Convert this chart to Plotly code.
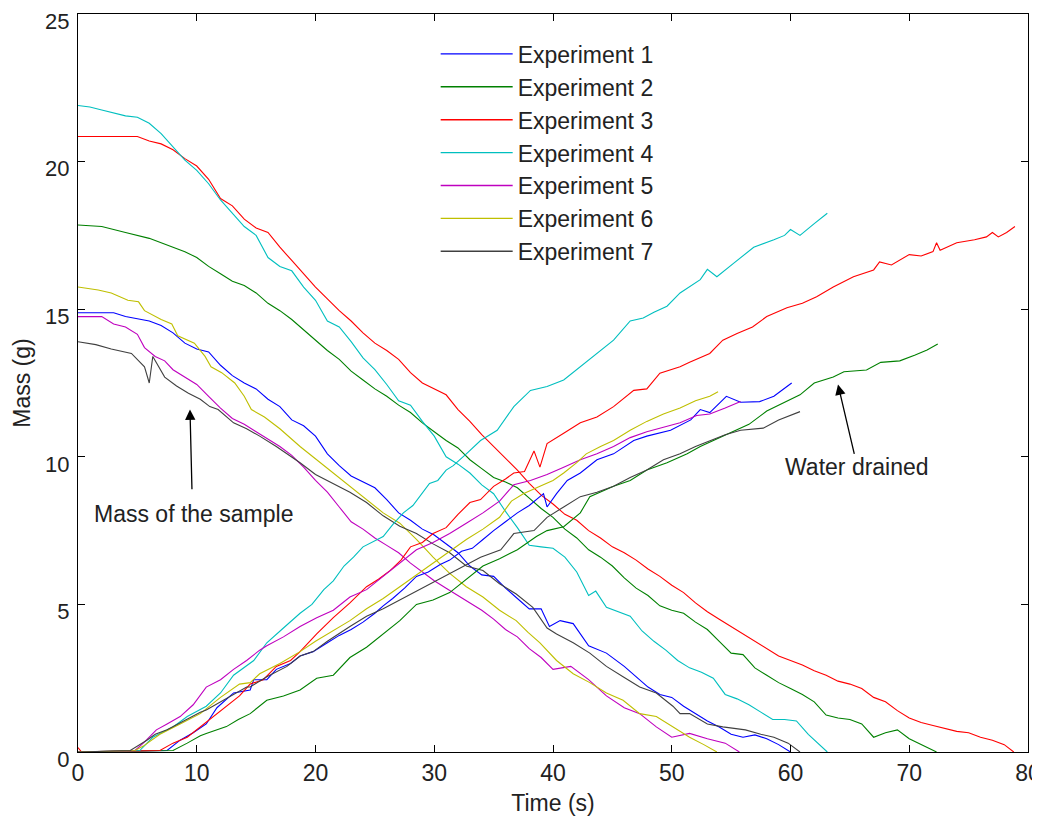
import plotly.graph_objects as go

# ---- Data (time s, mass g) ----
names = ["Experiment 1", "Experiment 2", "Experiment 3", "Experiment 4",
         "Experiment 5", "Experiment 6", "Experiment 7"]
colors = ["#0000ff", "#008000", "#ff0000", "#00bfbf", "#bf00bf", "#bfbf00", "#404040"]

# Mass of the sample (decreasing)
t_mass_1 = [0, 3, 4, 6, 7, 8, 9, 10, 11, 12, 13, 14, 15, 16, 17, 18, 19, 20, 21, 22, 23, 24, 25, 26, 27, 28, 29, 30, 31, 32, 33, 34, 35, 36, 37, 38, 39, 39.7, 40.6, 41.7, 43, 44.5, 46, 47, 48, 49, 50, 51, 52, 53, 54, 55, 56, 57, 58, 59, 60]
m_mass_1 = [14.88, 14.88, 14.75, 14.6, 14.45, 14.2, 13.85, 13.65, 13.55, 13.1, 12.75, 12.5, 12.3, 11.95, 11.7, 11.25, 11.05, 10.7, 10.1, 9.7, 9.35, 9.15, 8.95, 8.55, 8.1, 7.85, 7.55, 7.35, 7.05, 6.75, 6.3, 6.0, 5.95, 5.55, 5.2, 4.85, 4.85, 4.25, 4.45, 4.35, 3.6, 3.35, 2.9, 2.55, 2.2, 1.95, 1.85, 1.55, 1.3, 1.05, 0.85, 0.6, 0.5, 0.58, 0.45, 0.25, 0.0]

t_mass_2 = [0, 2, 4, 6, 8, 9, 10, 11, 12, 13, 14, 15, 16, 17, 18, 19, 20, 21, 22, 23, 24, 25, 26, 27, 28, 29, 30, 31, 32, 33, 34, 35, 36, 37, 38, 39, 40, 41, 42, 43, 44, 45, 46, 47, 48, 49, 50, 51, 52, 53, 54, 55, 56, 57, 58, 59, 60, 61, 62, 63, 64, 65, 66, 67, 68, 69, 70, 71, 72.3]
m_mass_2 = [17.85, 17.8, 17.6, 17.4, 17.1, 16.95, 16.75, 16.45, 16.2, 15.95, 15.8, 15.55, 15.2, 14.95, 14.65, 14.3, 13.95, 13.6, 13.3, 12.9, 12.6, 12.3, 12.05, 11.75, 11.5, 11.15, 10.85, 10.55, 10.3, 9.9, 9.6, 9.3, 9.15, 8.95, 8.6, 8.25, 7.95, 7.55, 7.25, 6.85, 6.6, 6.3, 5.9, 5.55, 5.3, 4.95, 4.8, 4.7, 4.4, 4.15, 3.75, 3.35, 3.3, 2.85, 2.6, 2.35, 2.15, 1.95, 1.7, 1.25, 1.15, 1.1, 0.95, 0.5, 0.65, 0.75, 0.45, 0.25, 0.0]

t_mass_3 = [0, 5, 6, 7, 8, 9, 10, 11, 12, 13, 14, 15, 16, 17, 18, 19, 20, 21, 22, 23, 24, 25, 26, 27, 28, 29, 30, 31, 32, 33, 34, 35, 36, 37, 38, 39, 40, 41, 42, 43, 44, 45, 46, 47, 48, 49, 50, 51, 52, 53, 54, 55, 56, 57, 58, 59, 60, 61, 62, 63, 64, 65, 66, 67, 68, 69, 70, 71, 72, 73, 74, 75, 76, 77, 78, 78.8]
m_mass_3 = [20.85, 20.85, 20.7, 20.6, 20.4, 20.1, 19.85, 19.4, 18.75, 18.5, 18.05, 17.75, 17.6, 17.1, 16.65, 16.2, 15.75, 15.35, 14.95, 14.6, 14.2, 13.85, 13.6, 13.3, 12.85, 12.5, 12.3, 12.1, 11.6, 11.2, 10.75, 10.35, 9.95, 9.55, 9.1, 8.7, 8.4, 8.05, 7.85, 7.5, 7.25, 6.95, 6.75, 6.5, 6.2, 5.95, 5.65, 5.4, 5.05, 4.75, 4.5, 4.25, 4.0, 3.75, 3.5, 3.25, 3.1, 2.95, 2.75, 2.6, 2.4, 2.3, 2.15, 1.85, 1.7, 1.4, 1.15, 1.0, 0.9, 0.8, 0.7, 0.65, 0.5, 0.4, 0.25, 0.0]

t_mass_4 = [0, 1, 2, 3, 4, 5, 6, 7, 8, 9, 10, 11, 12, 13, 14, 15, 16, 17, 18, 19, 20, 21, 22, 23, 24, 25, 26, 27, 28, 29, 30, 31, 32, 33, 34, 35, 36, 37, 38, 39, 40, 41, 42, 43, 43.6, 44.5, 45.5, 46.5, 47.5, 48.5, 49.5, 50.5, 51.5, 52.5, 53.5, 54.5, 55.5, 56.5, 57.5, 58.5, 59.5, 60.5, 61.5, 62.3, 63.1]
m_mass_4 = [21.9, 21.85, 21.75, 21.65, 21.55, 21.5, 21.3, 20.95, 20.5, 20.05, 19.7, 19.25, 18.7, 18.25, 17.8, 17.5, 16.75, 16.45, 16.3, 15.75, 15.3, 14.6, 14.4, 13.9, 13.35, 12.95, 12.45, 11.9, 11.75, 11.2, 10.7, 10.0, 9.75, 9.45, 9.05, 8.75, 8.15, 7.6, 7.0, 6.95, 6.9, 6.6, 6.1, 5.3, 5.45, 4.9, 4.75, 4.6, 4.1, 3.75, 3.45, 3.1, 2.85, 2.7, 2.5, 1.95, 1.8, 1.6, 1.35, 1.1, 1.1, 1.05, 0.6, 0.3, 0.0]

t_mass_5 = [0, 2, 3, 4, 5, 5.6, 6.5, 7.3, 8, 9, 10, 11, 12, 13, 14, 15, 16, 17, 18, 19, 20, 21, 22, 23, 24, 25, 26, 27, 28, 29, 30, 31, 32, 33, 34, 35, 36, 37, 38, 39, 40, 41.5, 43, 44.5, 46, 47.3, 48.7, 50, 51.5, 53, 54.5, 55.7]
m_mass_5 = [14.75, 14.75, 14.5, 14.4, 14.15, 13.7, 13.4, 13.25, 12.95, 12.7, 12.45, 12.05, 11.65, 11.3, 11.1, 10.85, 10.6, 10.35, 10.05, 9.65, 9.2, 8.8, 8.3, 7.8, 7.55, 7.25, 7.0, 6.75, 6.4, 6.1, 5.8, 5.55, 5.3, 5.05, 4.8, 4.5, 4.15, 3.9, 3.5, 3.2, 2.8, 2.9, 2.45, 1.9, 1.5, 1.3, 0.85, 0.5, 0.63, 0.45, 0.3, 0.0]

t_mass_6 = [0, 1.7, 2.8, 4.2, 5.1, 5.6, 7, 7.9, 8.4, 9.8, 10.7, 11.2, 12.1, 13.2, 14, 14.6, 15.7, 17, 18.7, 20.1, 21.5, 22.9, 24.3, 25.7, 27.1, 28.5, 29.9, 31.3, 32.7, 34.1, 35.5, 36.9, 37.9, 38.9, 40.3, 41.7, 43.1, 44.5, 45.9, 47.3, 48.7, 50.1, 51.5, 52.7, 53.8]
m_mass_6 = [15.75, 15.65, 15.55, 15.3, 15.25, 14.95, 14.65, 14.5, 14.1, 13.85, 13.4, 13.05, 12.85, 12.5, 12.05, 11.6, 11.35, 10.95, 10.35, 9.9, 9.45, 9.0, 8.55, 8.1, 7.75, 7.2, 6.6, 6.05, 5.6, 5.25, 4.8, 4.45, 4.05, 3.7, 3.1, 2.65, 2.35, 2.0, 1.75, 1.3, 1.2, 0.85, 0.5, 0.25, 0.0]

t_mass_7 = [0, 1.5, 2.8, 4.5, 5.6, 6.0, 6.3, 7.3, 8.3, 9.3, 10.3, 11.1, 11.8, 13.1, 14.2, 15.3, 16.7, 18.7, 20, 21.5, 22.9, 24.3, 25.7, 27.1, 28.5, 29.9, 31.3, 32.7, 34.1, 35.5, 36.9, 38.3, 39.5, 40.3, 41.7, 43.1, 44.5, 45.9, 47.3, 48.7, 50.1, 50.7, 51.5, 53, 54.3, 56.2, 57.5, 58.6, 59.8, 60.8]
m_mass_7 = [13.9, 13.8, 13.65, 13.5, 13.05, 12.5, 13.4, 12.7, 12.4, 12.15, 11.95, 11.7, 11.6, 11.15, 10.95, 10.7, 10.35, 9.8, 9.4, 9.1, 8.8, 8.45, 8.0, 7.65, 7.4, 7.05, 6.75, 6.3, 6.15, 5.7, 5.35, 4.9, 4.2, 4.0, 3.7, 3.35, 2.9, 2.55, 2.2, 2.0, 1.55, 1.3, 1.3, 0.95, 0.85, 0.75, 0.6, 0.5, 0.3, 0.0]

# Water drained (increasing)
t_drain_1 = [0, 7.5, 8.6, 9.7, 10.8, 11.7, 13.1, 14.5, 14.8, 15.9, 16.7, 17.9, 18.7, 19.8, 21, 22, 23, 24, 25, 25.7, 26.5, 27.5, 28.5, 29.5, 30.5, 31.3, 32.3, 33.2, 34.1, 35, 36, 37, 38, 39.2, 39.5, 40.3, 41.2, 42.3, 43.7, 45.1, 46.8, 47.9, 49.9, 51.6, 52.4, 53.2, 54.6, 55.8, 57.4, 58.6, 60.1]
m_drain_1 = [0.0, 0.05, 0.4, 0.65, 0.95, 1.5, 2.0, 2.1, 2.45, 2.45, 2.8, 3.0, 3.25, 3.4, 3.7, 3.95, 4.15, 4.4, 4.7, 4.95, 5.2, 5.55, 5.95, 6.1, 6.35, 6.5, 6.8, 6.9, 7.2, 7.5, 7.8, 8.1, 8.35, 8.75, 8.3, 8.75, 9.2, 9.45, 9.9, 10.1, 10.55, 10.7, 10.9, 11.25, 11.6, 11.5, 12.05, 11.85, 11.87, 12.05, 12.5]

t_drain_2 = [0, 8, 9.2, 10.3, 10.8, 12.5, 13.5, 14.5, 15.9, 17.3, 18.7, 20.1, 21.5, 22.9, 24.3, 25.7, 27.1, 28.5, 29.9, 31.3, 32.7, 34.1, 35.5, 37, 38.6, 39.5, 40.9, 42.3, 43.1, 45.1, 46.5, 47.9, 49.6, 51.3, 52.4, 53.2, 55.2, 56.5, 58, 59.7, 60.8, 62, 63.6, 64.5, 66.4, 67.6, 69.2, 70.5, 71.5, 72.4]
m_drain_2 = [0.0, 0.05, 0.3, 0.55, 0.63, 0.86, 1.1, 1.3, 1.75, 1.9, 2.1, 2.5, 2.6, 3.2, 3.55, 4.0, 4.45, 5.0, 5.15, 5.4, 5.85, 6.3, 6.55, 6.85, 7.3, 7.5, 7.63, 8.1, 8.65, 9.0, 9.2, 9.55, 9.8, 10.1, 10.35, 10.5, 10.85, 11.1, 11.55, 11.9, 12.1, 12.5, 12.7, 12.88, 12.94, 13.2, 13.25, 13.45, 13.62, 13.82]

t_drain_3 = [0, 0.3, 6.9, 8, 9.2, 10.3, 11.4, 12.5, 13.6, 14.5, 15.6, 16.7, 17.9, 18.7, 20.1, 21.5, 22.9, 24.3, 25.3, 26.3, 27.2, 28, 29, 29.9, 31.0, 32, 33, 33.9, 35, 36, 36.7, 37.6, 38.4, 38.9, 39.5, 40.9, 42.3, 43.7, 45.1, 46.8, 47.9, 49, 50.7, 51.5, 53.2, 54.3, 55.5, 56.8, 58, 59.7, 61, 62.2, 63.6, 65.3, 67, 67.5, 68.5, 70, 71, 72, 72.3, 72.6, 74, 75.5, 76.5, 77, 77.5, 78.2, 78.9]
m_drain_3 = [0.15, 0.0, 0.05, 0.3, 0.5, 0.85, 1.2, 1.55, 1.9, 2.3, 2.45, 2.9, 3.1, 3.4, 4.0, 4.55, 5.05, 5.6, 5.85, 6.15, 6.5, 6.95, 7.1, 7.4, 7.6, 8.05, 8.45, 8.55, 9.0, 9.25, 9.45, 9.5, 10.2, 9.65, 10.45, 10.8, 11.15, 11.35, 11.7, 12.25, 12.3, 12.83, 13.05, 13.2, 13.5, 13.95, 14.18, 14.4, 14.75, 15.05, 15.2, 15.42, 15.75, 16.1, 16.33, 16.6, 16.5, 16.85, 16.8, 16.95, 17.25, 17.0, 17.25, 17.35, 17.45, 17.6, 17.45, 17.6, 17.8]

t_drain_4 = [0, 5.2, 6.3, 8, 9.2, 10.8, 12, 13.1, 14.8, 15.9, 17.3, 18.7, 19.7, 20.7, 21.5, 22.4, 23.2, 24, 25.7, 26.5, 27.4, 28.2, 29.6, 30.3, 31, 31.6, 32.7, 33.9, 35.3, 36, 36.7, 38.1, 39.5, 40.9, 42.3, 43.7, 45.1, 46.5, 47.6, 48.5, 49.6, 50.7, 51.3, 52.4, 53, 53.8, 55.2, 56.9, 58.6, 59.5, 60, 60.8, 62, 63.1]
m_drain_4 = [0.0, 0.05, 0.5, 0.85, 1.2, 1.55, 2.0, 2.6, 3.1, 3.7, 4.2, 4.7, 5.0, 5.5, 5.8, 6.3, 6.6, 6.95, 7.3, 7.7, 8.1, 8.35, 9.1, 9.2, 9.55, 9.7, 10.1, 10.55, 10.9, 11.3, 11.7, 12.25, 12.38, 12.6, 13.05, 13.5, 13.95, 14.6, 14.7, 14.9, 15.1, 15.55, 15.7, 16.0, 16.35, 16.1, 16.55, 17.1, 17.35, 17.5, 17.7, 17.5, 17.9, 18.25]

t_drain_5 = [0, 4.8, 5.5, 6.6, 7.5, 8.6, 9.7, 10.8, 12, 13.1, 14.2, 15.3, 15.9, 17.3, 18.7, 20.1, 21.5, 22.9, 24.3, 25.7, 27.1, 28.5, 29.9, 31.3, 32.7, 34.1, 35.5, 36.7, 38.1, 39.5, 40.9, 42.3, 43.7, 45.1, 46.5, 47.9, 49.3, 50.7, 52.1, 53.2, 54.5, 55.8]
m_drain_5 = [0.0, 0.05, 0.3, 0.75, 0.95, 1.2, 1.6, 2.2, 2.45, 2.8, 3.1, 3.45, 3.6, 3.9, 4.25, 4.55, 4.8, 5.25, 5.5, 5.95, 6.4, 6.85, 7.1, 7.4, 7.75, 8.1, 8.5, 9.05, 9.2, 9.4, 9.65, 9.9, 10.1, 10.35, 10.65, 10.85, 11.0, 11.15, 11.4, 11.45, 11.65, 11.87]

t_drain_6 = [0, 4.8, 5.5, 6.9, 8.6, 10.3, 12, 13.6, 14.5, 15.3, 17, 18.7, 20, 21.5, 22.9, 24.3, 25.7, 27.1, 28.5, 29.9, 31.3, 32.7, 34.1, 35.5, 36.5, 37.5, 38.9, 40, 40.9, 42, 42.8, 44, 45.1, 46.5, 47.9, 49.3, 50.7, 52, 53.2, 53.9]
m_drain_6 = [0.0, 0.05, 0.2, 0.6, 0.95, 1.3, 1.85, 2.3, 2.35, 2.65, 3.0, 3.4, 3.75, 4.1, 4.45, 4.85, 5.2, 5.6, 6.0, 6.4, 6.8, 7.2, 7.55, 7.95, 8.5, 8.75, 9.0, 9.2, 9.45, 9.8, 10.1, 10.35, 10.55, 10.9, 11.2, 11.45, 11.65, 11.9, 12.05, 12.2]

t_drain_7 = [0, 4.4, 5.8, 6.5, 7.5, 9.2, 10.3, 10.8, 12.5, 14.2, 14.5, 15.9, 17.6, 18.7, 19.8, 21, 22.9, 24.3, 25.7, 27.1, 28.5, 29.9, 31.3, 32.7, 33.9, 35.6, 36.7, 38.4, 39.5, 40.9, 42.3, 43.7, 45.1, 46.5, 47.9, 49.3, 50.7, 52, 53.2, 54.5, 55.8, 57.7, 59, 60.8]
m_drain_7 = [0.0, 0.05, 0.4, 0.6, 0.75, 1.1, 1.35, 1.42, 1.8, 2.2, 2.2, 2.55, 2.9, 3.25, 3.4, 3.75, 4.25, 4.6, 4.85, 5.15, 5.45, 5.75, 6.05, 6.35, 6.6, 6.85, 7.4, 7.5, 7.95, 8.3, 8.65, 8.8, 9.0, 9.3, 9.55, 9.9, 10.1, 10.35, 10.55, 10.75, 10.9, 10.97, 11.25, 11.53]

t_mass = [t_mass_1, t_mass_2, t_mass_3, t_mass_4, t_mass_5, t_mass_6, t_mass_7]
m_mass = [m_mass_1, m_mass_2, m_mass_3, m_mass_4, m_mass_5, m_mass_6, m_mass_7]
t_drain = [t_drain_1, t_drain_2, t_drain_3, t_drain_4, t_drain_5, t_drain_6, t_drain_7]
m_drain = [m_drain_1, m_drain_2, m_drain_3, m_drain_4, m_drain_5, m_drain_6, m_drain_7]

x_ticks = [0, 10, 20, 30, 40, 50, 60, 70, 80]
y_ticks = [0, 5, 10, 15, 20, 25]

FONT = "Liberation Sans, Arial, sans-serif"
TXT = "#222222"
FS = 23

fig = go.Figure()
for i in range(7):
    fig.add_trace(go.Scatter(x=t_mass[i], y=m_mass[i], mode="lines", name=names[i],
                             showlegend=False, line=dict(color=colors[i], width=1.1)))
for i in range(7):
    fig.add_trace(go.Scatter(x=t_drain[i], y=m_drain[i], mode="lines", name=names[i],
                             showlegend=False, line=dict(color=colors[i], width=1.1)))
# legend entries (one per experiment, no data of their own)
for i in range(7):
    fig.add_trace(go.Scatter(x=[None], y=[None], mode="lines", name=names[i],
                             showlegend=True, hoverinfo="skip",
                             line=dict(color=colors[i], width=1.4)))

axis_common = dict(showline=True, linecolor="black", linewidth=1, mirror="ticks",
                   ticks="inside", ticklen=7, tickcolor="black", showgrid=False,
                   zeroline=False, automargin=False, ticklabeloverflow="allow")

fig.update_xaxes(range=[0, 80], tickvals=x_ticks,
                 tickfont=dict(family=FONT, size=FS, color=TXT),
                 title=dict(text="Time (s)", standoff=10, font=dict(family=FONT, size=FS, color=TXT)),
                 **axis_common)
fig.update_yaxes(range=[0, 25], tickvals=y_ticks, ticklabelshift=7, ticklabelstandoff=3,
                 tickfont=dict(family=FONT, size=22, color=TXT),
                 title=dict(text="Mass (g)", standoff=8, font=dict(family=FONT, size=FS, color=TXT)),
                 **axis_common)

# annotations
fig.add_annotation(x=9.43, y=11.6, ax=9.6, ay=8.85, xref="x", yref="y", axref="x", ayref="y",
                   text="", showarrow=True, arrowhead=2, arrowsize=1.6, arrowwidth=1.3, arrowcolor="black")
fig.add_annotation(x=9.7, y=8.05, xref="x", yref="y", text="Mass of the sample", showarrow=False,
                   font=dict(family=FONT, size=FS, color=TXT))
fig.add_annotation(x=64.0, y=12.45, ax=65.4, ay=10.05, xref="x", yref="y", axref="x", ayref="y",
                   text="", showarrow=True, arrowhead=2, arrowsize=1.6, arrowwidth=1.3, arrowcolor="black")
fig.add_annotation(x=65.6, y=9.65, xref="x", yref="y", text="Water drained", showarrow=False,
                   font=dict(family=FONT, size=FS, color=TXT))

# The page places the figure 8 px from the top-left corner, so the figure is
# sized 1032x813 and margins are reduced by 8 px on the left/top.
fig.update_layout(
    width=1032, height=813,
    margin=dict(l=70, r=12, t=6, b=69, autoexpand=False),
    paper_bgcolor="white", plot_bgcolor="white",
    showlegend=True,
    legend=dict(x=0.3765, y=0.975, xanchor="left", yanchor="top", bgcolor="rgba(255,255,255,0)",
                borderwidth=0, font=dict(family=FONT, size=FS, color=TXT), itemwidth=72),
)

fig.write_html("out.html")
